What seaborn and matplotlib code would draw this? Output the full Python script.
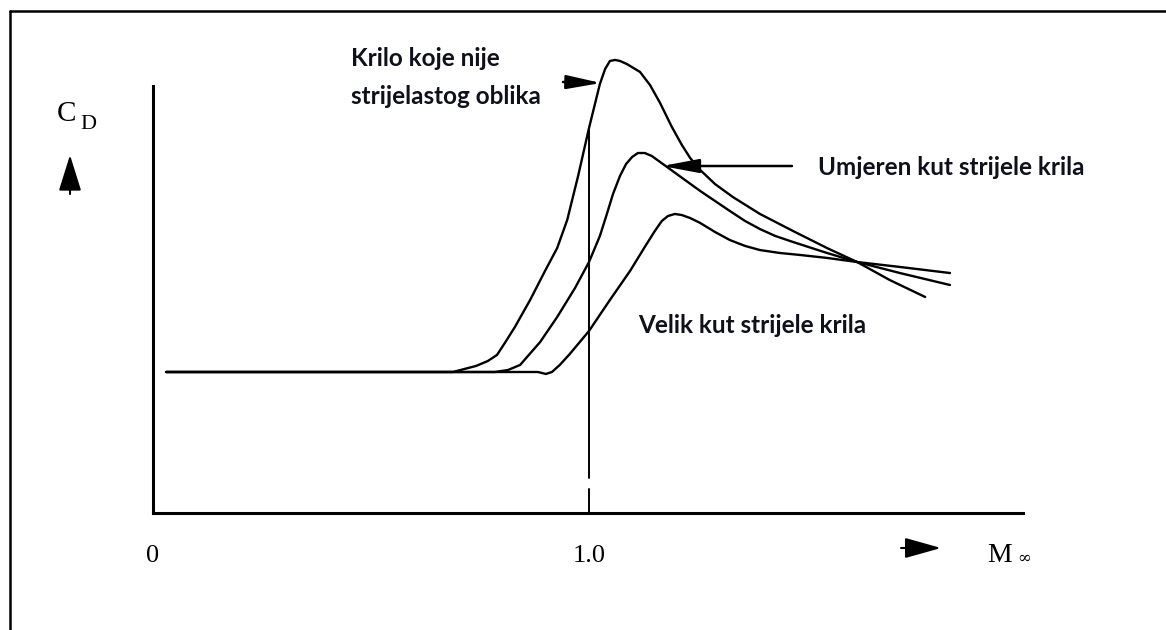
import numpy as np
import pandas as pd
import matplotlib
matplotlib.use("Agg")
import matplotlib.pyplot as plt
from matplotlib.lines import Line2D
import seaborn as sns

# ---- data ----
M_unswept = [0.03, 0.688, 0.741, 0.768, 0.789, 0.807, 0.830, 0.865, 0.899, 0.927, 0.950,
             0.975, 1.000, 1.025, 1.037, 1.048, 1.060, 1.071, 1.087, 1.117, 1.140, 1.163,
             1.190, 1.213, 1.232, 1.255, 1.289, 1.330, 1.392, 1.468, 1.546, 1.615,
             1.690, 1.771]
CD_unswept = [1.000, 1.000, 1.043, 1.078, 1.121, 1.206, 1.319, 1.511, 1.716, 1.879, 2.078,
              2.390, 2.730, 3.043, 3.149, 3.206, 3.213, 3.206, 3.184, 3.128, 3.035, 2.908,
              2.738, 2.610, 2.518, 2.433, 2.333, 2.241, 2.121, 2.000, 1.879, 1.780,
              1.652, 1.532]

M_moderate = [0.03, 0.784, 0.814, 0.842, 0.888, 0.927, 0.968, 1.000, 1.025, 1.041, 1.055,
              1.071, 1.085, 1.099, 1.112, 1.128, 1.144, 1.179, 1.220, 1.255, 1.289, 1.323,
              1.358, 1.392, 1.427, 1.468, 1.546, 1.615, 1.713, 1.828]
CD_moderate = [1.000, 1.000, 1.014, 1.050, 1.213, 1.390, 1.596, 1.780, 1.965, 2.121, 2.262,
               2.390, 2.475, 2.525, 2.553, 2.553, 2.532, 2.454, 2.362, 2.284, 2.213, 2.142,
               2.071, 2.014, 1.965, 1.922, 1.844, 1.780, 1.702, 1.617]

M_high = [0.03, 0.883, 0.901, 0.915, 0.933, 0.956, 1.000, 1.048, 1.094, 1.128, 1.151,
          1.167, 1.181, 1.197, 1.213, 1.232, 1.255, 1.289, 1.323, 1.358, 1.392, 1.438,
          1.484, 1.546, 1.615, 1.713, 1.828]
CD_high = [1.000, 1.000, 0.986, 1.000, 1.050, 1.128, 1.291, 1.511, 1.716, 1.887, 2.000,
           2.071, 2.106, 2.121, 2.113, 2.092, 2.057, 1.993, 1.936, 1.894, 1.865, 1.844,
           1.830, 1.809, 1.780, 1.745, 1.702]

x_ticks = [0.0, 1.0]
x_ticklabels = ["0", "1.0"]
ref_M = 1.0
ref_segments = [(0.0, 0.17), (0.248, 2.73)]

label_unswept = ["Krilo koje nije", "strijelastog oblika"]
label_moderate = "Umjeren kut strijele krila"
label_high = "Velik kut strijele krila"

# ---- figure ----
sns.set_theme(style="white")
plt.rcParams["font.family"] = ["Liberation Serif", "DejaVu Serif"]

W, H = 1166, 630
fig = plt.figure(figsize=(W / 100, H / 100), dpi=100)

def fx(x):
    return x / W

def fy(y):
    return 1 - y / H

# axes box: x-axis from px 153 to 1023 at y=513; y spans to px 40
ax = fig.add_axes([fx(153), fy(513), (1023 - 153) / W, (513 - 40) / H])
ax.set_xlim(0, (1023 - 153) / 436)
ax.set_ylim(0, (513 - 40) / 141)
ax.patch.set_alpha(0)

for M, CD in [(M_unswept, CD_unswept), (M_moderate, CD_moderate), (M_high, CD_high)]:
    df = pd.DataFrame({"M": M, "CD": CD})
    sns.lineplot(data=df, x="M", y="CD", ax=ax, color="black", lw=1.7,
                 estimator=None, sort=False, solid_joinstyle="round",
                 solid_capstyle="round")

for y0, y1 in ref_segments:
    ax.plot([ref_M, ref_M], [y0, y1], color="black", lw=1.4)

for s in ["top", "right"]:
    ax.spines[s].set_visible(False)
for s in ["left", "bottom"]:
    ax.spines[s].set_color("black")
    ax.spines[s].set_linewidth(2.2)
ax.spines["left"].set_bounds(0, (513 - 86) / 141)

ax.set_xticks(x_ticks)
ax.set_xticklabels(x_ticklabels, fontsize=19, fontfamily="Liberation Serif")
ax.set_yticks([])
ax.tick_params(axis="x", length=0, pad=23, colors="black")
ax.set_xlabel("")
ax.set_ylabel("")

# axis titles
fig.text(fx(57), fy(121), "C", fontsize=21, color="black", ha="left", va="baseline",
         fontfamily="Liberation Serif")
fig.text(fx(80), fy(129), "D", fontsize=16, color="black", ha="left", va="baseline",
         fontfamily="Liberation Serif")
fig.text(fx(987), fy(562), "M", fontsize=20, color="black", ha="left", va="baseline",
         fontfamily="Liberation Serif")
fig.text(fx(1017), fy(563), "\u221e", fontsize=12, color="black", ha="left", va="baseline",
         fontfamily="DejaVu Serif")

def arrow(tail, tip, hl=1.4, hw=0.35, lw=1.8):
    ax.annotate("", xy=(tip[0], H - tip[1]), xytext=(tail[0], H - tail[1]),
                xycoords="figure pixels", textcoords="figure pixels",
                arrowprops=dict(arrowstyle=f"-|>,head_length={hl},head_width={hw}",
                                color="black", lw=lw, shrinkA=0, shrinkB=0,
                                mutation_scale=14),
                annotation_clip=False)

arrow((70, 194), (70, 155), hl=1.6, hw=0.5, lw=1.5)
arrow((901, 548), (941, 548), hl=1.6, hw=0.45, lw=1.5)
arrow((563, 82), (601, 83), hl=1.5, hw=0.3)
arrow((792, 166), (662, 166), hl=1.6, hw=0.3)

lab_kw = dict(fontsize=17.5, fontweight="bold", color="#10101c", fontfamily="Lato",
              ha="left", va="center")
fig.text(fx(351), fy(59), label_unswept[0], **lab_kw)
fig.text(fx(351), fy(96), label_unswept[1], **lab_kw)
fig.text(fx(818), fy(168), label_moderate, **lab_kw)
fig.text(fx(638), fy(325), label_high, **lab_kw)

# outer frame (top and left)
fig.add_artist(Line2D([fx(10), 1.0], [fy(11), fy(11)], transform=fig.transFigure,
                      color="black", lw=1.8))
fig.add_artist(Line2D([fx(10), fx(10)], [0.0, fy(11)], transform=fig.transFigure,
                      color="black", lw=1.8))

fig.savefig("out.png", dpi=100, facecolor="white")
